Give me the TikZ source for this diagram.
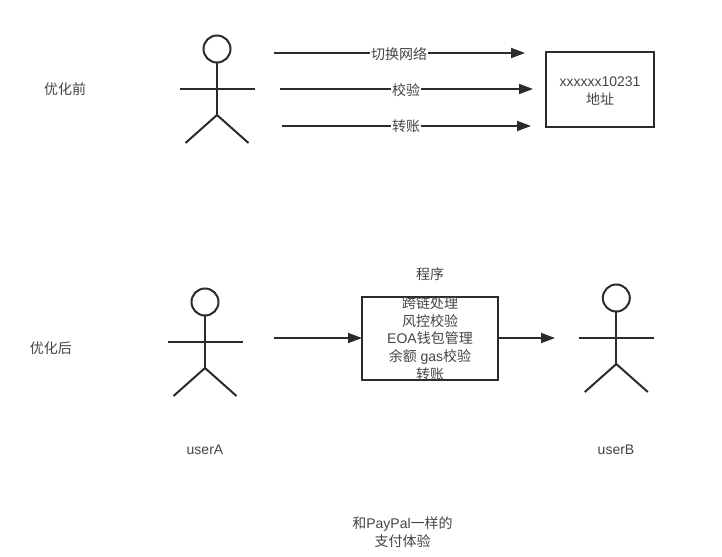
\documentclass[tikz,border=0pt]{standalone}
\usepackage{fontspec}
\setmainfont{Liberation Sans}
\newfontfamily\cjk{Noto Sans CJK SC}
\usetikzlibrary{arrows.meta}
\definecolor{ink}{HTML}{2B2B2B}
\definecolor{txt}{HTML}{444444}
\tikzset{
  line/.style={draw=ink,line width=1.5pt},
  flow/.style={line,-{Triangle[length=10.5pt,width=7.5pt]}},
  lbl/.style={text=txt,font=\fontsize{10.5pt}{13.2pt}\selectfont,align=center,inner sep=0pt},
  onflow/.style={lbl,fill=white,inner xsep=1pt,inner ysep=0pt},
  boxn/.style={line,rectangle,anchor=north west,inner sep=0pt,outer sep=0pt},
  headn/.style={line,circle,minimum size=20.25pt,inner sep=0pt,outer sep=0pt}
}
\newcommand{\stick}[3]{%
  \node[headn] (#3h) at (#1,#2) {};
  \coordinate (#3w) at (#1,#2+66);
  \coordinate (#3a) at (#1-37.5,#2+40);
  \coordinate (#3b) at (#1+37.5,#2+40);
  \coordinate (#3l) at (#1-31.5,#2+94);
  \coordinate (#3r) at (#1+31.5,#2+94);
  \draw[line] (#3h.south) -- (#3w);
  \draw[line] (#3a) -- (#3b);
  \draw[line] (#3l) -- (#3w) -- (#3r);
}
\begin{document}
\begin{tikzpicture}[x=0.75pt,y=-0.75pt]
\useasboundingbox (0,0) rectangle (722,557);
\stick{217}{49}{p}
\stick{205}{302}{q}
\stick{616.3}{298}{s}

\node[boxn,minimum width=81pt,minimum height=56.25pt] (addr) at (546,52) {};
\node[lbl] (addrt) at (600,91) {xxxxxx10231\\{\cjk 地址}};

\coordinate (a1s) at (274,53);  \coordinate (a1e) at (525,53);
\coordinate (a2s) at (280,89);  \coordinate (a2e) at (533,89);
\coordinate (a3s) at (282,126); \coordinate (a3e) at (531,126);
\draw[flow] (a1s) -- (a1e);
\draw[flow] (a2s) -- (a2e);
\draw[flow] (a3s) -- (a3e);
\node[onflow] (l1) at (399,54) {\cjk 切换网络};
\node[onflow] (l2) at (406,90) {\cjk 校验};
\node[onflow] (l3) at (406,126) {\cjk 转账};

\node[lbl] (before) at (65,89) {\cjk 优化前};
\node[lbl] (after) at (51,348) {\cjk 优化后};
\node[lbl] (prog) at (430,274) {\cjk 程序};

\node[boxn,minimum width=102pt,minimum height=62.25pt] (pbox) at (362,297) {};
\node[lbl] (ptext) at (430,338.5) {{\cjk 跨链处理}\\{\cjk 风控校验}\\EOA{\cjk 钱包管理}\\{\cjk 余额} gas{\cjk 校验}\\{\cjk 转账}};

\coordinate (b1s) at (274,338);
\coordinate (b2e) at (555,338);
\draw[flow] (b1s) -- (pbox.west |- b1s);
\draw[flow] (pbox.east |- b2e) -- (b2e);

\node[lbl] (ua) at (205,450) {userA};
\node[lbl] (ub) at (616,450) {userB};
\node[lbl] (cap) at (402.5,532) {{\cjk 和}PayPal{\cjk 一样的}\\{\cjk 支付体验}};
\end{tikzpicture}
\end{document}
